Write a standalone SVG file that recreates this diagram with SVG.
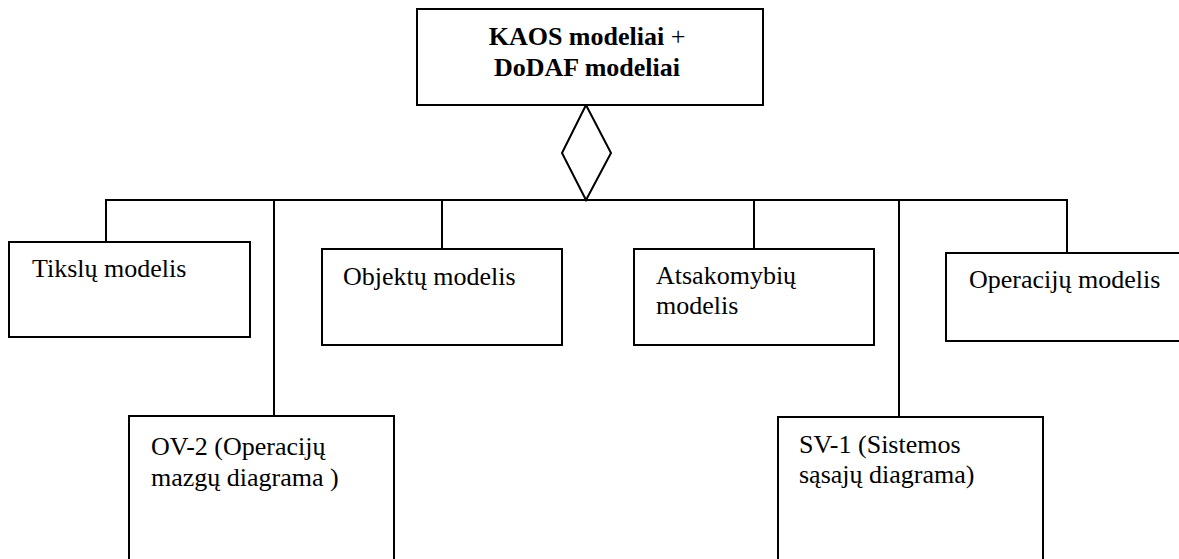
<svg xmlns="http://www.w3.org/2000/svg" width="1179" height="559" viewBox="0 0 1179 559">
<style>
.box{fill:#fff;stroke:#000;stroke-width:2}
.ln{fill:none;stroke:#000;stroke-width:2}
</style>
<rect width="1179" height="559" fill="#fff"/>
<g id="connectors">
<polygon class="ln" points="586,105 611,153 586,200 562,153"/>
<line class="ln" x1="105" y1="200" x2="1068" y2="200"/>
<line class="ln" x1="106" y1="200" x2="106" y2="242"/>
<line class="ln" x1="274" y1="200" x2="274" y2="416"/>
<line class="ln" x1="442" y1="200" x2="442" y2="249"/>
<line class="ln" x1="754" y1="200" x2="754" y2="249"/>
<line class="ln" x1="899" y1="200" x2="899" y2="417"/>
<line class="ln" x1="1067" y1="200" x2="1067" y2="253"/>
</g>
<g id="top">
<rect class="box" x="417" y="9" width="346" height="96"/>
<text font-family="Liberation Serif" font-size="26" font-weight="bold" x="587" y="45" text-anchor="middle">KAOS modeliai <tspan font-weight="normal">+</tspan></text>
<text font-family="Liberation Serif" font-size="26" font-weight="bold" x="587" y="76" text-anchor="middle">DoDAF modeliai</text>
</g>
<g id="tikslu">
<rect class="box" x="9" y="242" width="241" height="95"/>
<text font-family="Liberation Serif" font-size="26" x="32" y="277">Tikslų modelis</text>
</g>
<g id="objektu">
<rect class="box" x="322" y="249" width="240" height="96"/>
<text font-family="Liberation Serif" font-size="26" x="343" y="285">Objektų modelis</text>
</g>
<g id="atsakomybiu">
<rect class="box" x="634" y="249" width="240" height="96"/>
<text font-family="Liberation Serif" font-size="26" x="656" y="284">Atsakomybių</text>
<text font-family="Liberation Serif" font-size="26" x="656" y="314">modelis</text>
</g>
<g id="operaciju">
<rect class="box" x="946" y="253" width="250" height="88"/>
<text font-family="Liberation Serif" font-size="26" x="969" y="288">Operacijų modelis</text>
</g>
<g id="ov2">
<rect class="box" x="129" y="416" width="265" height="160"/>
<text font-family="Liberation Serif" font-size="26" x="151" y="455">OV-2 (Operacijų</text>
<text font-family="Liberation Serif" font-size="26" x="151" y="486">mazgų diagrama )</text>
</g>
<g id="sv1">
<rect class="box" x="778" y="417" width="265" height="160"/>
<text font-family="Liberation Serif" font-size="26" x="799" y="453">SV-1 (Sistemos</text>
<text font-family="Liberation Serif" font-size="26" x="799" y="483">sąsajų diagrama)</text>
</g>
</svg>
